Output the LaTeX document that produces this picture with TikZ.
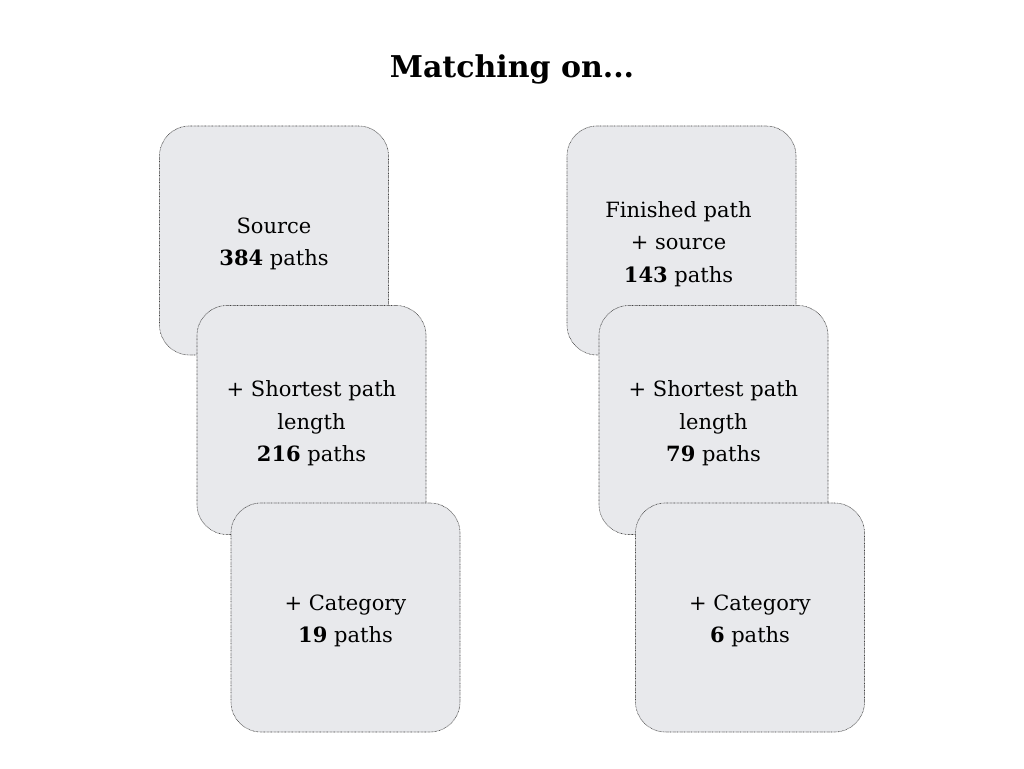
\documentclass[tikz,border=0pt]{standalone}
\usepackage{fontspec}
\setmainfont{DejaVu Serif}
\begin{document}
\begin{tikzpicture}[x=1pt,y=1pt,
  card/.style={draw=black!75, line width=0.6pt, dash pattern=on 0.7pt off 0.7pt, fill=cardfill, rounded corners=30pt, minimum width=229pt, minimum height=229pt, inner sep=0pt},
  cardtext/.style={inner sep=0pt, align=center, font=\fontsize{21}{32.5}\selectfont, yshift=-3.5pt},
  title/.style={font=\fontsize{30}{36}\selectfont\bfseries}]
\definecolor{cardfill}{HTML}{E8E9EC}
\useasboundingbox (0,0) rectangle (1024,768);
\node[title] (t) at (512,699) {Matching on...};
\node[card] (a1) at (274,527.5) {};
\node[cardtext] (a1t) at (a1) {Source\\\textbf{384} paths};
\node[card] (a2) at (311.5,348) {};
\node[cardtext] (a2t) at (a2) {+ Shortest path\\length\\\textbf{216} paths};
\node[card] (a3) at (345.5,150.5) {};
\node[cardtext] (a3t) at (a3) {+ Category\\\textbf{19} paths};
\node[card] (b1) at (681.5,527.5) {};
\node[cardtext,xshift=-3pt] (b1t) at (b1) {Finished path\\+ source\\\textbf{143} paths};
\node[card] (b2) at (713.5,348) {};
\node[cardtext] (b2t) at (b2) {+ Shortest path\\length\\\textbf{79} paths};
\node[card] (b3) at (750,150.5) {};
\node[cardtext] (b3t) at (b3) {+ Category\\\textbf{6} paths};
\end{tikzpicture}
\end{document}
